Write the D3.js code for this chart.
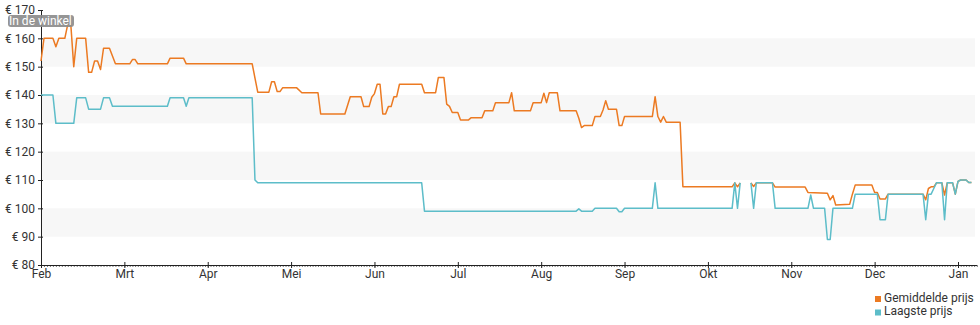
<!DOCTYPE html>
<html>
<head>
<meta charset="utf-8">
<script src="https://cdn.jsdelivr.net/npm/d3@7"></script>
<style>
  html, body { margin: 0; padding: 0; background: #fff; }
  svg { display: block; font-family: Roboto, "Noto Sans", sans-serif; }
</style>
</head>
<body>
<svg id="chart" width="980" height="325"></svg>
<script>
// Month tick labels (Dutch)
const monthLabels = ["Feb", "Mrt", "Apr", "Mei", "Jun", "Jul", "Aug", "Sep", "Okt", "Nov", "Dec", "Jan"];
const priceTicks = [80, 90, 100, 110, 120, 130, 140, 150, 160, 170];

// Gemiddelde prijs (average price), change points per day
const avgDates = [
  "2023-02-01","2023-02-02","2023-02-05","2023-02-06","2023-02-07","2023-02-09","2023-02-10","2023-02-11",
  "2023-02-12","2023-02-13","2023-02-16","2023-02-17","2023-02-18","2023-02-19","2023-02-20","2023-02-21",
  "2023-02-22","2023-02-24","2023-02-26","2023-03-03","2023-03-04","2023-03-05","2023-03-06","2023-03-17",
  "2023-03-18","2023-03-23","2023-03-24","2023-04-17","2023-04-19","2023-04-23","2023-04-24","2023-04-25",
  "2023-04-26","2023-04-27","2023-04-28","2023-05-03","2023-05-05","2023-05-11","2023-05-12","2023-05-21",
  "2023-05-23","2023-05-27","2023-05-28","2023-05-30","2023-05-31","2023-06-01","2023-06-02","2023-06-03",
  "2023-06-04","2023-06-05","2023-06-06","2023-06-07","2023-06-08","2023-06-09","2023-06-10","2023-06-18",
  "2023-06-19","2023-06-23","2023-06-24","2023-06-26","2023-06-27","2023-06-28","2023-06-29","2023-07-01",
  "2023-07-02","2023-07-05","2023-07-06","2023-07-10","2023-07-11","2023-07-14","2023-07-15","2023-07-20",
  "2023-07-21","2023-07-22","2023-07-28","2023-07-29","2023-08-01","2023-08-02","2023-08-03","2023-08-04",
  "2023-08-07","2023-08-08","2023-08-14","2023-08-15","2023-08-16","2023-08-17","2023-08-20","2023-08-21",
  "2023-08-23","2023-08-24","2023-08-25","2023-08-26","2023-08-29","2023-08-30","2023-08-31","2023-09-01",
  "2023-09-11","2023-09-12","2023-09-13","2023-09-14","2023-09-15","2023-09-16","2023-09-21","2023-09-22",
  "2023-10-10","2023-10-11","2023-10-12","2023-10-13","2023-10-14","2023-10-17","2023-10-18","2023-10-19",
  "2023-10-25","2023-10-26","2023-11-06","2023-11-07","2023-11-14","2023-11-15","2023-11-16","2023-11-17",
  "2023-11-22","2023-11-23","2023-11-24","2023-11-30","2023-12-01","2023-12-02","2023-12-03","2023-12-05",
  "2023-12-06","2023-12-19","2023-12-20","2023-12-21","2023-12-22","2023-12-23","2023-12-24","2023-12-26",
  "2023-12-27","2023-12-28","2023-12-30","2023-12-31","2024-01-01","2024-01-02","2024-01-04","2024-01-05",
  "2024-01-06"
];
const avgPrice = [
  152, 160, 160, 157, 160, 160, 165, 165,
  150, 160, 160, 148, 148, 152, 152, 149,
  156.5, 156.5, 151, 151, 152.5, 152.5, 151, 151,
  153, 153, 151, 151, 141, 141, 144.7, 144.7,
  141.2, 141.2, 142.6, 142.6, 140.8, 140.8, 133.3, 133.3,
  139.4, 139.4, 135.9, 135.9, 139.2, 140.5, 143.8, 143.8,
  133.3, 133.3, 135.9, 135.9, 139.4, 139.4, 143.8, 143.8,
  140.8, 140.8, 146.2, 146.2, 136.8, 136, 133.8, 133.8,
  131.2, 131.2, 132, 132, 134.4, 134.4, 137.3, 137.3,
  140.8, 134.4, 134.4, 137.3, 137.3, 140.6, 137.3, 140.8,
  140.8, 134.4, 134.4, 131.8, 128.5, 129.2, 129.2, 132.4,
  132.4, 134.7, 138, 135, 135, 129.2, 129.2, 132.4,
  132.4, 139.4, 132.4, 130.4, 132.4, 130.4, 130.4, 107.6,
  107.6, 109, 107.6, 109, null, 109, 107.7, 109,
  109, 107.5, 107.5, 105.6, 105.3, 103, 104.5, 101.2,
  101.4, 105, 108.2, 108.2, 105.6, 105.6, 103.3, 103.3,
  105, 105, 103, 107, 107.6, 107.6, 109, 109,
  104.7, 109, 109, 105, 109.5, 110, 110, 109.1,
  109.1
];

// Laagste prijs (lowest price), change points per day
const lowDates = [
  "2023-02-01","2023-02-05","2023-02-06","2023-02-12","2023-02-13","2023-02-16","2023-02-17","2023-02-21",
  "2023-02-22","2023-02-24","2023-02-25","2023-03-17","2023-03-18","2023-03-23","2023-03-24","2023-03-25",
  "2023-04-17","2023-04-18","2023-04-19","2023-06-18","2023-06-19","2023-08-14","2023-08-15","2023-08-16",
  "2023-08-20","2023-08-21","2023-08-29","2023-08-30","2023-08-31","2023-09-01","2023-09-11","2023-09-12",
  "2023-09-13","2023-10-10","2023-10-11","2023-10-12","2023-10-13","2023-10-14","2023-10-17","2023-10-18",
  "2023-10-19","2023-10-25","2023-10-26","2023-11-07","2023-11-08","2023-11-09","2023-11-13","2023-11-14",
  "2023-11-15","2023-11-16","2023-11-23","2023-11-24","2023-12-02","2023-12-03","2023-12-05","2023-12-06",
  "2023-12-19","2023-12-20","2023-12-21","2023-12-22","2023-12-23","2023-12-24","2023-12-26","2023-12-27",
  "2023-12-28","2023-12-30","2023-12-31","2024-01-01","2024-01-02","2024-01-04","2024-01-05","2024-01-06"
];
const lowPrice = [
  140, 140, 130, 130, 139, 139, 135, 135,
  139, 139, 136, 136, 139, 139, 136, 139,
  139, 110, 109, 109, 99, 99, 99.8, 99,
  99, 100, 100, 98.8, 98.8, 100, 100, 109,
  100, 100, 109, 100, 109, null, 109, 100,
  109, 109, 100, 100, 104.7, 100, 100, 89,
  89, 100, 100, 105, 105, 96, 96, 105,
  105, 96, 105, 105, 107, 109, 109, 96,
  109, 109, 105, 109.5, 110, 110, 109.1, 109.1
];

const seriesNames = ["Gemiddelde prijs", "Laagste prijs"];
const seriesColors = ["#ec7a22", "#5dbdc9"];

const parse = d3.timeParse("%Y-%m-%d");
const startYear = 2023, startMonth = 1; // February (0-based)

// Every month gets equal width on the time axis
function monthPos(date) {
  const yr = date.getFullYear(), m = date.getMonth();
  const days = new Date(yr, m + 1, 0).getDate();
  return (yr - startYear) * 12 + (m - startMonth) + (date.getDate() - 1) / days;
}

const svg = d3.select("#chart");
const plotLeft = 41, plotRight = 977, plotTop = 10, plotBottom = 265;

const x = d3.scaleLinear().domain([0, 11]).range([plotLeft, 958]);
const y = d3.scaleLinear().domain([80, 170]).range([plotBottom, plotTop]);

// Alternating horizontal bands
const bands = [[150, 160], [130, 140], [110, 120], [90, 100]];
svg.append("g").selectAll("rect").data(bands).join("rect")
  .attr("x", plotLeft).attr("width", plotRight - 2 - plotLeft)
  .attr("y", d => y(d[1])).attr("height", d => y(d[0]) - y(d[1]))
  .attr("fill", "#f7f7f7");

// Daily minor ticks along the x axis
const dayTicks = d3.timeDay.range(new Date(2023, 1, 1), new Date(2024, 0, 9)).map(monthPos);
svg.append("g").attr("transform", `translate(0,${plotBottom})`)
  .call(d3.axisBottom(x).tickValues(dayTicks).tickSize(2).tickSizeOuter(0).tickFormat(""))
  .call(g => g.select(".domain").remove())
  .call(g => g.selectAll(".tick line").attr("stroke", "#777"));

// X axis with month ticks
const xAxis = svg.append("g").attr("transform", `translate(0,${plotBottom})`)
  .call(d3.axisBottom(x).tickValues(d3.range(12)).tickFormat(i => monthLabels[i]).tickSizeOuter(0));
xAxis.select(".domain").attr("d", `M${plotLeft},0.5H${plotRight}`).attr("stroke", "#222");
xAxis.selectAll(".tick line").attr("y1", -3).attr("y2", 3).attr("stroke", "#222");
xAxis.selectAll(".tick text").attr("y", 4).attr("dy", "0.71em")
  .attr("font-size", 12).attr("fill", "#333").attr("font-family", "Roboto");

// Y axis
const yAxis = svg.append("g").attr("transform", `translate(${plotLeft},0)`)
  .call(d3.axisLeft(y).tickValues(priceTicks).tickFormat(d => "€ " + d).tickSizeOuter(0));
yAxis.select(".domain").attr("stroke", "#222");
yAxis.selectAll(".tick line").attr("x1", -3).attr("x2", 2).attr("stroke", "#222");
yAxis.selectAll(".tick text").attr("x", -6)
  .attr("font-size", 12).attr("fill", "#333").attr("font-family", "Roboto");

// Price lines
const line = d3.line()
  .defined(d => d.v != null)
  .x(d => x(monthPos(d.date)))
  .y(d => y(d.v));

const avgData = avgDates.map((s, i) => ({ date: parse(s), v: avgPrice[i] }));
const lowData = lowDates.map((s, i) => ({ date: parse(s), v: lowPrice[i] }));

svg.append("path").datum(avgData)
  .attr("fill", "none").attr("stroke", seriesColors[0]).attr("stroke-width", 1.5)
  .attr("stroke-linejoin", "round").attr("d", line);
svg.append("path").datum(lowData)
  .attr("fill", "none").attr("stroke", seriesColors[1]).attr("stroke-width", 1.5)
  .attr("stroke-linejoin", "round").attr("d", line);

// Store label
const tag = svg.append("g");
tag.append("rect").attr("x", 8).attr("y", 15).attr("width", 66).attr("height", 12)
  .attr("rx", 3).attr("fill", "#8c8c8c").attr("opacity", 0.92);
tag.append("text").attr("x", 9).attr("y", 25).attr("font-size", 12)
  .attr("fill", "#fff").attr("font-family", "Roboto").text("In de winkel");

// Legend
const legend = svg.append("g").selectAll("g").data(seriesNames).join("g")
  .attr("transform", (d, i) => `translate(875,${296 + i * 13.5})`);
legend.append("rect").attr("width", 6).attr("height", 6)
  .attr("fill", (d, i) => seriesColors[i]);
legend.append("text").attr("x", 9).attr("y", 5.5).attr("font-size", 12)
  .attr("fill", "#333").attr("font-family", "Roboto").text(d => d);
</script>
</body>
</html>
